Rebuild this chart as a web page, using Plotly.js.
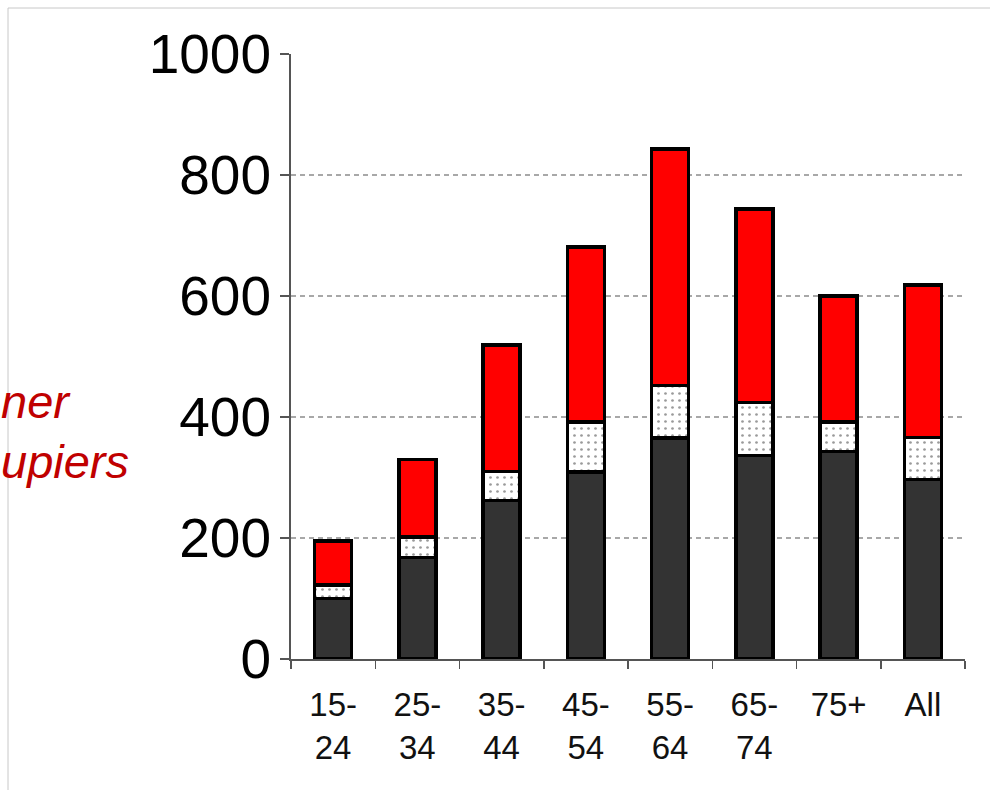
<!DOCTYPE html>
<html>
<head>
<meta charset="utf-8">
<script src="https://cdn.plot.ly/plotly-3.0.1.min.js"></script>
<style>
  html, body { margin: 0; padding: 0; background: #ffffff; }
  #chart { width: 990px; height: 790px; }
</style>
</head>
<body>
<div id="chart"></div>
<script>
// Age bands along the x axis
const ageBands = ['15-<br>24', '25-<br>34', '35-<br>44', '45-<br>54', '55-<br>64', '65-<br>74', '75+', 'All'];

// Stacked segments, bottom to top
const baseValues   = [100, 168, 262, 309, 365, 336, 343, 297];
const middleValues = [22, 34, 48, 83, 87, 88, 49, 69];
const topValues    = [73, 128, 209, 289, 391, 320, 208, 252];

// Y axis ticks
const yTicks = [0, 200, 400, 600, 800, 1000];

// Side label lines
const sideLabel = ['ner', 'upiers'];

const W = 990, H = 790;
const M = { l: 291, r: 25, t: 54, b: 131 };
const plotW = W - M.l - M.r, plotH = H - M.t - M.b;
const px = v => (v - M.l) / plotW;       // page x -> paper x
const py = v => (H - M.b - v) / plotH;   // page y -> paper y

const outline = { color: '#000000', width: 3.5 };
const barWidth = 0.44;

const traces = [
  {
    type: 'bar', x: ageBands, y: baseValues, width: barWidth,
    marker: { color: '#333333', line: outline }
  },
  {
    type: 'bar', x: ageBands, y: middleValues, width: barWidth,
    marker: {
      color: '#ffffff', line: outline,
      pattern: { shape: '.', fgcolor: '#9a9a9a', bgcolor: '#ffffff', size: 7, solidity: 0.12 }
    }
  },
  {
    type: 'bar', x: ageBands, y: topValues, width: barWidth,
    marker: { color: '#ff0000', line: outline }
  }
];

const sideFont = { family: 'Liberation Sans, Arial, sans-serif', size: 47, color: '#c00000', style: 'italic' };

const layout = {
  width: W, height: H,
  margin: M,
  barmode: 'stack',
  showlegend: false,
  paper_bgcolor: '#ffffff',
  plot_bgcolor: 'rgba(0,0,0,0)',
  font: { family: 'Liberation Sans, Arial, sans-serif', color: '#000000' },
  xaxis: {
    type: 'category',
    showline: true, linecolor: '#555555', linewidth: 1.5,
    ticks: 'outside', tickson: 'boundaries', ticklen: 8, tickwidth: 1.5, tickcolor: '#555555',
    tickfont: { size: 33, family: 'Liberation Sans, Arial, sans-serif', color: '#111111' },
    ticklabelstandoff: 16,
    showgrid: false, zeroline: false, fixedrange: true
  },
  yaxis: {
    range: [0, 1000],
    tickvals: yTicks, ticktext: yTicks.map(String),
    showline: true, linecolor: '#555555', linewidth: 2,
    ticks: 'outside', ticklen: 9, tickwidth: 2, tickcolor: '#555555',
    tickfont: { size: 55, family: 'Liberation Sans, Arial, sans-serif', color: '#000000' },
    ticklabelstandoff: -2,
    showgrid: true, gridcolor: '#a8a8a8', gridwidth: 1.5, griddash: '5px,4px',
    zeroline: false, fixedrange: true
  },
  shapes: [
    // thin frame around the slide area
    { type: 'line', xref: 'paper', yref: 'paper', x0: px(8), x1: px(8), y0: py(8), y1: py(800),
      line: { color: '#c8c8c8', width: 1 }, layer: 'below' },
    { type: 'line', xref: 'paper', yref: 'paper', x0: px(8), x1: px(1000), y0: py(8), y1: py(8),
      line: { color: '#c8c8c8', width: 1 }, layer: 'below' }
  ],
  annotations: [
    { xref: 'paper', yref: 'paper', x: px(-1), y: py(430), xanchor: 'left', yanchor: 'bottom',
      text: sideLabel[0], showarrow: false, font: sideFont },
    { xref: 'paper', yref: 'paper', x: px(-1), y: py(490), xanchor: 'left', yanchor: 'bottom',
      text: sideLabel[1], showarrow: false, font: sideFont }
  ]
};

Plotly.newPlot('chart', traces, layout, { staticPlot: true, displayModeBar: false });
</script>
</body>
</html>
